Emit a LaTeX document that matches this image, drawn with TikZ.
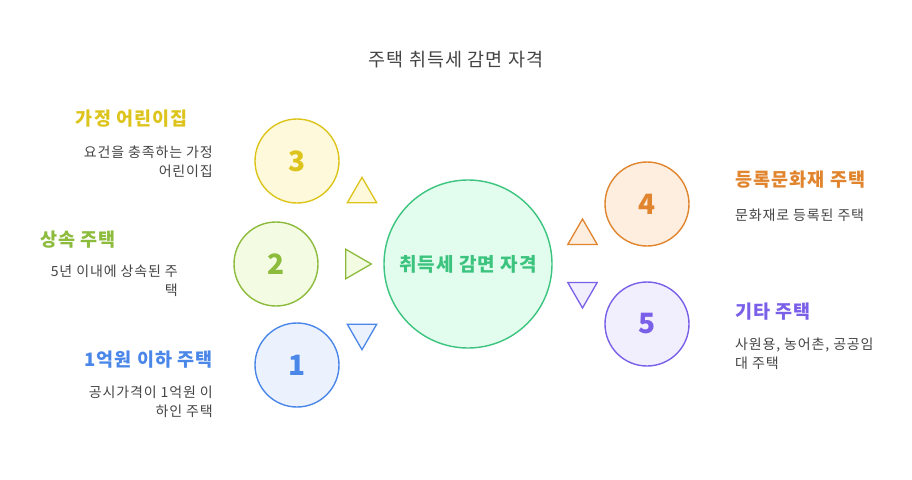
\documentclass[tikz,border=0pt]{standalone}
\usepackage{fontspec}
\setmainfont{Noto Sans CJK KR}[LetterSpace=6]
\usepackage{xcolor}
\usetikzlibrary{shapes.geometric}

\definecolor{yellowline}{HTML}{DDC41C}
\definecolor{yellowfill}{HTML}{FEF9DA}
\definecolor{greenline}{HTML}{8DBB3C}
\definecolor{greenfill}{HTML}{F3FBE2}
\definecolor{blueline}{HTML}{4A87E8}
\definecolor{bluefill}{HTML}{EBF2FE}
\definecolor{orangeline}{HTML}{E0852E}
\definecolor{orangefill}{HTML}{FDEEE0}
\definecolor{purpleline}{HTML}{7A5FE8}
\definecolor{purplefill}{HTML}{F1EFFE}
\definecolor{mainline}{HTML}{3CC47F}
\definecolor{mainfill}{HTML}{E2FCEE}
\definecolor{bodytext}{HTML}{444444}

\begin{document}
\begin{tikzpicture}[x=1pt, y=-1pt,
      type-num/.style={circle, minimum size=84pt, inner sep=0pt, line width=1.4pt,
        font=\fontsize{28}{28}\selectfont\bfseries},
      type-main/.style={circle, minimum size=168pt, inner sep=0pt, line width=1.4pt,
        draw=mainline, fill=mainfill, text=mainline, font=\fontsize{19}{19}\selectfont\bfseries},
      type-tri/.style={regular polygon, regular polygon sides=3, minimum size=34pt,
        inner sep=0pt, line width=1.3pt},
      type-head/.style={inner sep=0pt, font=\fontsize{18.5}{20}\selectfont\bfseries},
      type-desc/.style={inner sep=0pt, text=bodytext, font=\fontsize{14}{18.5}\selectfont}
    ]
      \useasboundingbox (0,0) rectangle (912,479);
      \node[inner sep=0pt, text=bodytext, font=\fontsize{18.5}{20}\selectfont] (title) at (456,60) {주택 취득세 감면 자격};

      % center
      \node[type-main] (main) at (468,264) {취득세 감면 자격};

      % numbered circles
      \node[type-num, draw=yellowline, fill=yellowfill, text=yellowline] (n3) at (297,161) {3};
      \node[type-num, draw=greenline, fill=greenfill, text=greenline] (n2) at (276,264) {2};
      \node[type-num, draw=blueline, fill=bluefill, text=blueline] (n1) at (297,365) {1};
      \node[type-num, draw=orangeline, fill=orangefill, text=orangeline] (n4) at (647,204) {4};
      \node[type-num, draw=purpleline, fill=purplefill, text=purpleline] (n5) at (647,324) {5};

      % pointers
      \node[type-tri, draw=yellowline, fill=yellowfill] (t3) at (362,194.3) {};
      \node[type-tri, draw=greenline, fill=greenfill, shape border rotate=-90] (t2) at (354.3,264) {};
      \node[type-tri, draw=blueline, fill=bluefill, shape border rotate=180] (t1) at (362,332.7) {};
      \node[type-tri, draw=orangeline, fill=orangefill] (t4) at (582.5,236) {};
      \node[type-tri, draw=purpleline, fill=purplefill, shape border rotate=180] (t5) at (582.5,291) {};

      % labels
      \node[type-head, text=yellowline, anchor=east] (h3) at (188,119) {가정 어린이집};
      \node[type-desc, align=right, anchor=north east] (d3) at (213,146) {요건을 충족하는 가정\\어린이집};
      \node[type-head, text=greenline, anchor=west] (h2) at (40,240) {상속 주택};
      \node[type-desc, align=right, anchor=north east] (d2) at (178,265) {5년 이내에 상속된 주\\택};
      \node[type-head, text=blueline, anchor=east] (h1) at (213,360) {1억원 이하 주택};
      \node[type-desc, align=right, anchor=north east] (d1) at (213,386) {공시가격이 1억원 이\\하인 주택};
      \node[type-head, text=orangeline, anchor=west] (h4) at (735,180) {등록문화재 주택};
      \node[type-desc, anchor=west] (d4) at (735,215) {문화재로 등록된 주택};
      \node[type-head, text=purpleline, anchor=west] (h5) at (735,312) {기타 주택};
      \node[type-desc, align=left, anchor=north west] (d5) at (735,338) {사원용, 농어촌, 공공임\\대 주택};
    \end{tikzpicture}
\end{document}
